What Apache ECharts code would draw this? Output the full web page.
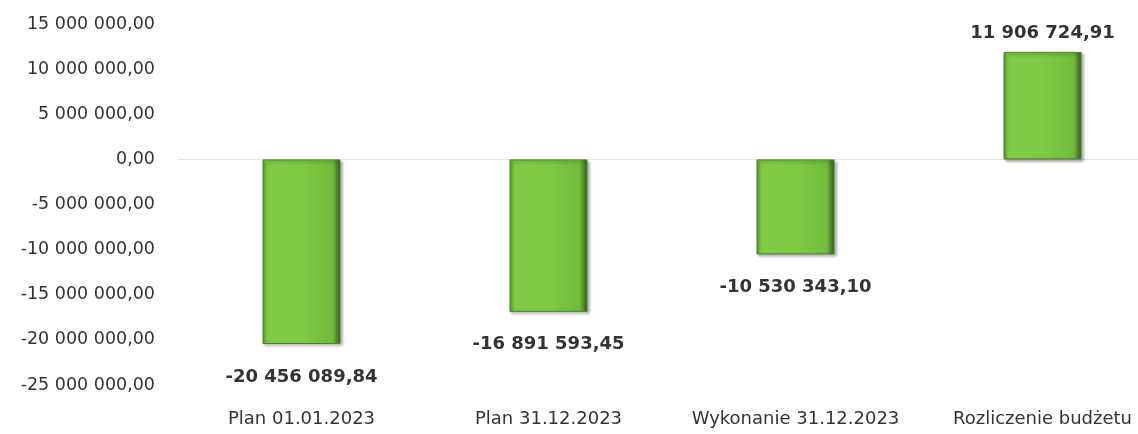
<!DOCTYPE html>
<html>
<head>
<meta charset="utf-8">
<script src="https://cdn.jsdelivr.net/npm/echarts@6/dist/echarts.min.js"></script>
<style>
    html, body { margin: 0; padding: 0; background: #fff; overflow: hidden; }
    /* chart is a bit wider than the window: the last category is cut off on the right like in the original */
    #chart { width: 1170px; height: 434px; }
</style>
</head>
<body>
<div id="chart"></div>
<script>
    const categories = ['Plan 01.01.2023', 'Plan 31.12.2023', 'Wykonanie 31.12.2023', 'Rozliczenie budżetu'];
    const values = [-20456089.84, -16891593.45, -10530343.10, 11906724.91];
    const yMin = -25000000;
    const yMax = 15000000;
    const yStep = 5000000;

    function formatPL(v) {
        const neg = v < 0;
        const parts = Math.abs(v).toFixed(2).split('.');
        const intPart = parts[0].replace(/\B(?=(\d{3})+(?!\d))/g, ' ');
        return (neg ? '-' : '') + intPart + ',' + parts[1];
    }

    const barColor = new echarts.graphic.LinearGradient(0, 0, 1, 0, [
        { offset: 0, color: '#5c9a30' },
        { offset: 0.05, color: '#80cb45' },
        { offset: 0.5, color: '#7dca43' },
        { offset: 0.9, color: '#72bc3b' },
        { offset: 1, color: '#355a1f' }
    ]);

    const seriesData = values.map(function (v) {
        return {
            value: v,
            label: {
                position: v < 0 ? 'bottom' : 'top',
                distance: v < 0 ? 24 : 10
            }
        };
    });

    const chart = echarts.init(document.getElementById('chart'));
    chart.setOption({
        animation: false,
        grid: { left: 178, right: 4, top: 24, bottom: 49 },
        xAxis: {
            type: 'category',
            data: categories,
            axisLine: { show: true, onZero: true, lineStyle: { color: '#e3e3e3', width: 1 } },
            axisTick: { show: false },
            axisLabel: {
                interval: 0,
                margin: 25,
                color: '#333',
                fontFamily: 'DejaVu Sans',
                fontSize: 18
            }
        },
        yAxis: {
            type: 'value',
            min: yMin,
            max: yMax,
            interval: yStep,
            axisLine: { show: false },
            axisTick: { show: false },
            splitLine: { show: false },
            axisLabel: {
                margin: 23,
                color: '#333',
                fontFamily: 'DejaVu Sans',
                fontSize: 17.5,
                formatter: formatPL
            }
        },
        series: [{
            type: 'bar',
            data: seriesData,
            barWidth: 78,
            itemStyle: {
                color: barColor,
                borderColor: '#4a8128',
                borderWidth: 1,
                shadowColor: 'rgba(0,0,0,0.35)',
                shadowBlur: 3,
                shadowOffsetX: 2,
                shadowOffsetY: 2
            },
            label: {
                show: true,
                color: '#333',
                fontFamily: 'DejaVu Sans',
                fontWeight: 'bold',
                fontSize: 18,
                formatter: function (p) { return formatPL(p.value); }
            }
        }]
    });
</script>
</body>
</html>
